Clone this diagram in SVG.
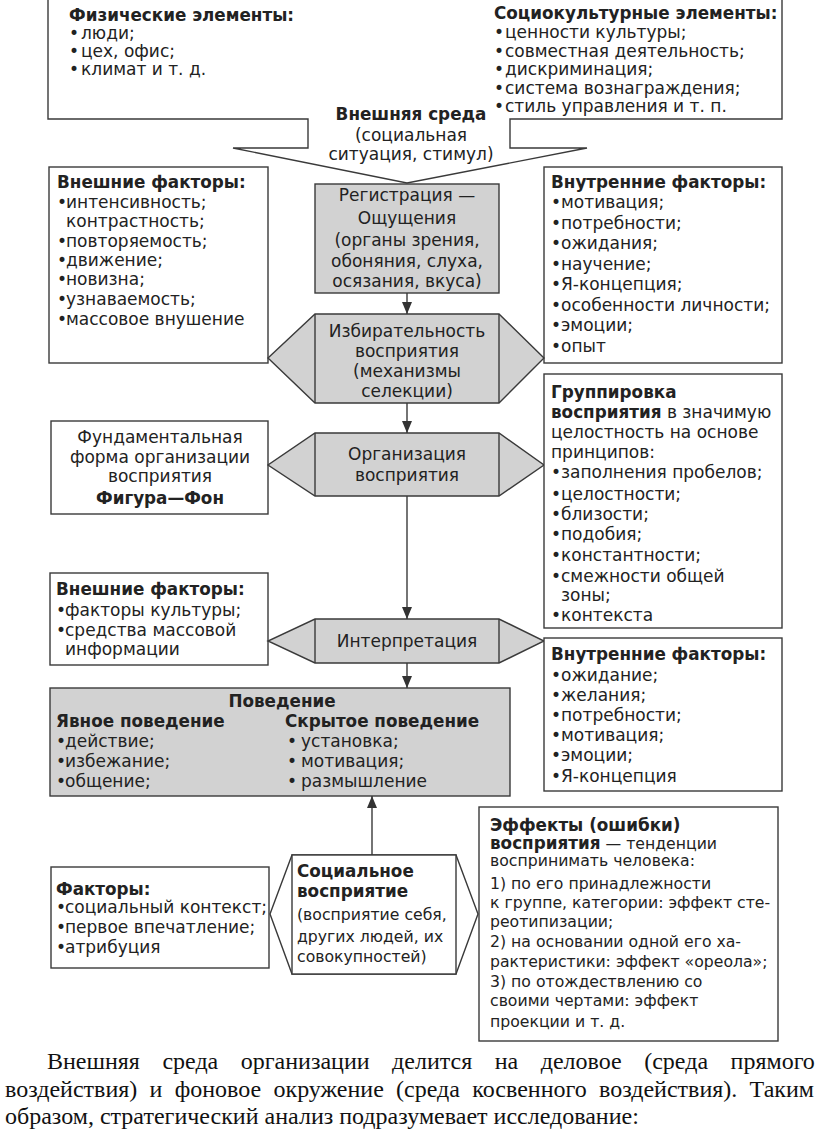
<svg xmlns="http://www.w3.org/2000/svg" width="816" height="1135" viewBox="0 0 816 1135">
<style>
.bx{fill:#fff;stroke:#3a3a3a;stroke-width:1.4}
.gr{fill:#d2d2d2;stroke:#3a3a3a;stroke-width:1.4}
.ln{fill:none;stroke:#3a3a3a;stroke-width:1.4}
.t{font-family:"DejaVu Sans","Liberation Sans",sans-serif;font-size:17px;fill:#222}
.b{font-weight:bold;font-size:16.8px}
.s{font-size:15.7px}
.c{text-anchor:middle}
.p{font-family:"Liberation Serif","Times New Roman",serif;font-size:24px;fill:#111}
</style>
<defs>
<marker id="ah" viewBox="0 0 12 10" refX="12" refY="5" markerWidth="12" markerHeight="10" markerUnits="userSpaceOnUse" orient="auto">
<path d="M0,0 L12,5 L0,10 z" fill="#333"/>
</marker>
</defs>
<rect width="816" height="1135" fill="#fff"/>

<g id="environment">
<path class="bx" d="M48,-2 V119 H308 V148 H233 L407,183 L587,148 H510 V119 H782 V-2"/>
<text class="t b" x="69" y="21">Физические элементы:</text>
<text class="t" x="69" y="39">•<tspan x="81">люди;</tspan></text>
<text class="t" x="69" y="57">•<tspan x="81">цех, офис;</tspan></text>
<text class="t" x="69" y="75">•<tspan x="81">климат и т. д.</tspan></text>
<text class="t b" x="494" y="19">Социокультурные элементы:</text>
<text class="t" x="494" y="38">•<tspan x="505">ценности культуры;</tspan></text>
<text class="t" x="494" y="57">•<tspan x="505">совместная деятельность;</tspan></text>
<text class="t" x="494" y="75">•<tspan x="505">дискриминация;</tspan></text>
<text class="t" x="494" y="94">•<tspan x="505">система вознаграждения;</tspan></text>
<text class="t" x="494" y="112">•<tspan x="505">стиль управления и т. п.</tspan></text>
<text class="t b c" x="411" y="120">Внешняя среда</text>
<text class="t c" x="411" y="141">(социальная</text>
<text class="t c" x="411" y="160">ситуация, стимул)</text>
</g>

<g id="ext-factors-1">
<rect class="bx" x="49" y="167" width="219" height="196"/>
<text class="t b" x="57" y="188">Внешние факторы:</text>
<text class="t" x="57" y="208">•<tspan x="66">интенсивность;</tspan></text>
<text class="t" x="66" y="227">контрастность;</text>
<text class="t" x="57" y="247">•<tspan x="66">повторяемость;</tspan></text>
<text class="t" x="57" y="266">•<tspan x="66">движение;</tspan></text>
<text class="t" x="57" y="285">•<tspan x="66">новизна;</tspan></text>
<text class="t" x="57" y="305">•<tspan x="66">узнаваемость;</tspan></text>
<text class="t" x="57" y="325">•<tspan x="66">массовое внушение</tspan></text>
</g>

<g id="int-factors-1">
<rect class="bx" x="544" y="167" width="238" height="196"/>
<text class="t b" x="551" y="188">Внутренние факторы:</text>
<text class="t" x="551" y="208">•<tspan x="561">мотивация;</tspan></text>
<text class="t" x="551" y="229">•<tspan x="561">потребности;</tspan></text>
<text class="t" x="551" y="249">•<tspan x="561">ожидания;</tspan></text>
<text class="t" x="551" y="270">•<tspan x="561">научение;</tspan></text>
<text class="t" x="551" y="290">•<tspan x="561">Я-концепция;</tspan></text>
<text class="t" x="551" y="311">•<tspan x="561">особенности личности;</tspan></text>
<text class="t" x="551" y="331">•<tspan x="561">эмоции;</tspan></text>
<text class="t" x="551" y="352">•<tspan x="561">опыт</tspan></text>
</g>

<g id="registration">
<rect class="gr" x="315" y="184" width="184" height="109"/>
<text class="t c" x="407" y="201">Регистрация —</text>
<text class="t c" x="407" y="224">Ощущения</text>
<text class="t c" x="407" y="246">(органы зрения,</text>
<text class="t c" x="407" y="267">обоняния, слуха,</text>
<text class="t c" x="407" y="287">осязания, вкуса)</text>
</g>

<g id="selectivity">
<polygon class="gr" points="315,314 499,314 544,358 499,403 315,403 268,358"/>
<path class="ln" d="M315,314 V403 M499,314 V403"/>
<text class="t c" x="407" y="337">Избирательность</text>
<text class="t c" x="407" y="357">восприятия</text>
<text class="t c" x="407" y="377">(механизмы</text>
<text class="t c" x="407" y="397">селекции)</text>
</g>

<g id="figure-ground">
<rect class="bx" x="51" y="421" width="217" height="93"/>
<text class="t c" x="160" y="443">Фундаментальная</text>
<text class="t c" x="160" y="463">форма организации</text>
<text class="t c" x="160" y="482">восприятия</text>
<text class="t b c" x="160" y="504">Фигура—Фон</text>
</g>

<g id="organization">
<polygon class="gr" points="315,433 499,433 544,465 499,496 315,496 268,465"/>
<path class="ln" d="M315,433 V496 M499,433 V496"/>
<text class="t c" x="407" y="460">Организация</text>
<text class="t c" x="407" y="481">восприятия</text>
</g>

<g id="grouping">
<rect class="bx" x="544" y="374" width="238" height="254"/>
<text class="t b" x="551" y="398">Группировка</text>
<text class="t" x="551" y="418"><tspan class="b">восприятия</tspan> в значимую</text>
<text class="t" x="551" y="438">целостность на основе</text>
<text class="t" x="551" y="458">принципов:</text>
<text class="t" x="551" y="478">•<tspan x="561">заполнения пробелов;</tspan></text>
<text class="t" x="551" y="500">•<tspan x="561">целостности;</tspan></text>
<text class="t" x="551" y="520">•<tspan x="561">близости;</tspan></text>
<text class="t" x="551" y="540">•<tspan x="561">подобия;</tspan></text>
<text class="t" x="551" y="561">•<tspan x="561">константности;</tspan></text>
<text class="t" x="551" y="582">•<tspan x="561">смежности общей</tspan></text>
<text class="t" x="561" y="601">зоны;</text>
<text class="t" x="551" y="621">•<tspan x="561">контекста</tspan></text>
</g>

<g id="ext-factors-2">
<rect class="bx" x="50" y="573" width="218" height="92"/>
<text class="t b" x="56" y="595">Внешние факторы:</text>
<text class="t" x="56" y="616">•<tspan x="65">факторы культуры;</tspan></text>
<text class="t" x="56" y="636">•<tspan x="65">средства массовой</tspan></text>
<text class="t" x="65" y="655">информации</text>
</g>

<g id="interpretation">
<polygon class="gr" points="315,619 499,619 544,641 499,663 315,663 268,641"/>
<path class="ln" d="M315,619 V663 M499,619 V663"/>
<text class="t c" x="407" y="647">Интерпретация</text>
</g>

<g id="int-factors-2">
<rect class="bx" x="544" y="638" width="238" height="153"/>
<text class="t b" x="551" y="660">Внутренние факторы:</text>
<text class="t" x="551" y="681">•<tspan x="561">ожидание;</tspan></text>
<text class="t" x="551" y="701">•<tspan x="561">желания;</tspan></text>
<text class="t" x="551" y="721">•<tspan x="561">потребности;</tspan></text>
<text class="t" x="551" y="741">•<tspan x="561">мотивация;</tspan></text>
<text class="t" x="551" y="761">•<tspan x="561">эмоции;</tspan></text>
<text class="t" x="551" y="782">•<tspan x="561">Я-концепция</tspan></text>
</g>

<g id="behaviour">
<rect class="gr" x="50" y="688" width="460" height="108"/>
<text class="t b c" x="282" y="707">Поведение</text>
<text class="t b" x="56" y="727">Явное поведение</text>
<text class="t b" x="285" y="727">Скрытое поведение</text>
<text class="t" x="56" y="747">•<tspan x="65">действие;</tspan></text>
<text class="t" x="56" y="767">•<tspan x="65">избежание;</tspan></text>
<text class="t" x="56" y="787">•<tspan x="65">общение;</tspan></text>
<text class="t" x="287" y="747">•<tspan x="301">установка;</tspan></text>
<text class="t" x="287" y="767">•<tspan x="301">мотивация;</tspan></text>
<text class="t" x="287" y="787">•<tspan x="301">размышление</tspan></text>
</g>

<g id="factors">
<rect class="bx" x="51" y="867" width="218" height="101"/>
<text class="t b" x="56" y="895">Факторы:</text>
<text class="t" x="56" y="913">•<tspan x="65">социальный контекст;</tspan></text>
<text class="t" x="56" y="933">•<tspan x="65">первое впечатление;</tspan></text>
<text class="t" x="56" y="953">•<tspan x="65">атрибуция</tspan></text>
</g>

<g id="social-perception">
<polygon class="bx" points="292,855 456,855 478,914 456,974 292,974 270,914"/>
<rect class="bx" x="292" y="855" width="164" height="119"/>
<text class="t b" x="297" y="877">Социальное</text>
<text class="t b" x="297" y="897">восприятие</text>
<text class="t s" x="297" y="920">(восприятие себя,</text>
<text class="t s" x="297" y="942">других людей, их</text>
<text class="t s" x="297" y="962">совокупностей)</text>
</g>

<g id="effects">
<rect class="bx" x="479" y="807" width="299" height="234"/>
<text class="t b" x="490" y="831">Эффекты (ошибки)</text>
<text class="t s" x="490" y="849"><tspan class="b">восприятия</tspan> — тенденции</text>
<text class="t s" x="490" y="866">воспринимать человека:</text>
<text class="t s" x="490" y="889">1) по его принадлежности</text>
<text class="t s" x="490" y="908">к группе, категории: эффект сте-</text>
<text class="t s" x="490" y="927">реотипизации;</text>
<text class="t s" x="490" y="947">2) на основании одной его ха-</text>
<text class="t s" x="490" y="967">рактеристики: эффект «ореола»;</text>
<text class="t s" x="490" y="987">3) по отождествлению со</text>
<text class="t s" x="490" y="1006">своими чертами: эффект</text>
<text class="t s" x="490" y="1027">проекции и т. д.</text>
</g>

<g id="connectors">
<line class="ln" x1="407" y1="293" x2="407" y2="314" marker-end="url(#ah)"/>
<line class="ln" x1="407" y1="403" x2="407" y2="433" marker-end="url(#ah)"/>
<line class="ln" x1="407" y1="496" x2="407" y2="619" marker-end="url(#ah)"/>
<line class="ln" x1="407" y1="663" x2="407" y2="688" marker-end="url(#ah)"/>
<line class="ln" x1="372" y1="855" x2="372" y2="796" marker-end="url(#ah)"/>
</g>

<g id="paragraph">
<text class="p" x="47" y="1069" word-spacing="16.5">Внешняя среда организации делится на деловое (среда прямого</text>
<text class="p" x="5" y="1097" word-spacing="6.3">воздействия) и фоновое окружение (среда косвенного воздействия). Таким</text>
<text class="p" x="5" y="1124">образом, стратегический анализ подразумевает исследование:</text>
</g>
</svg>
